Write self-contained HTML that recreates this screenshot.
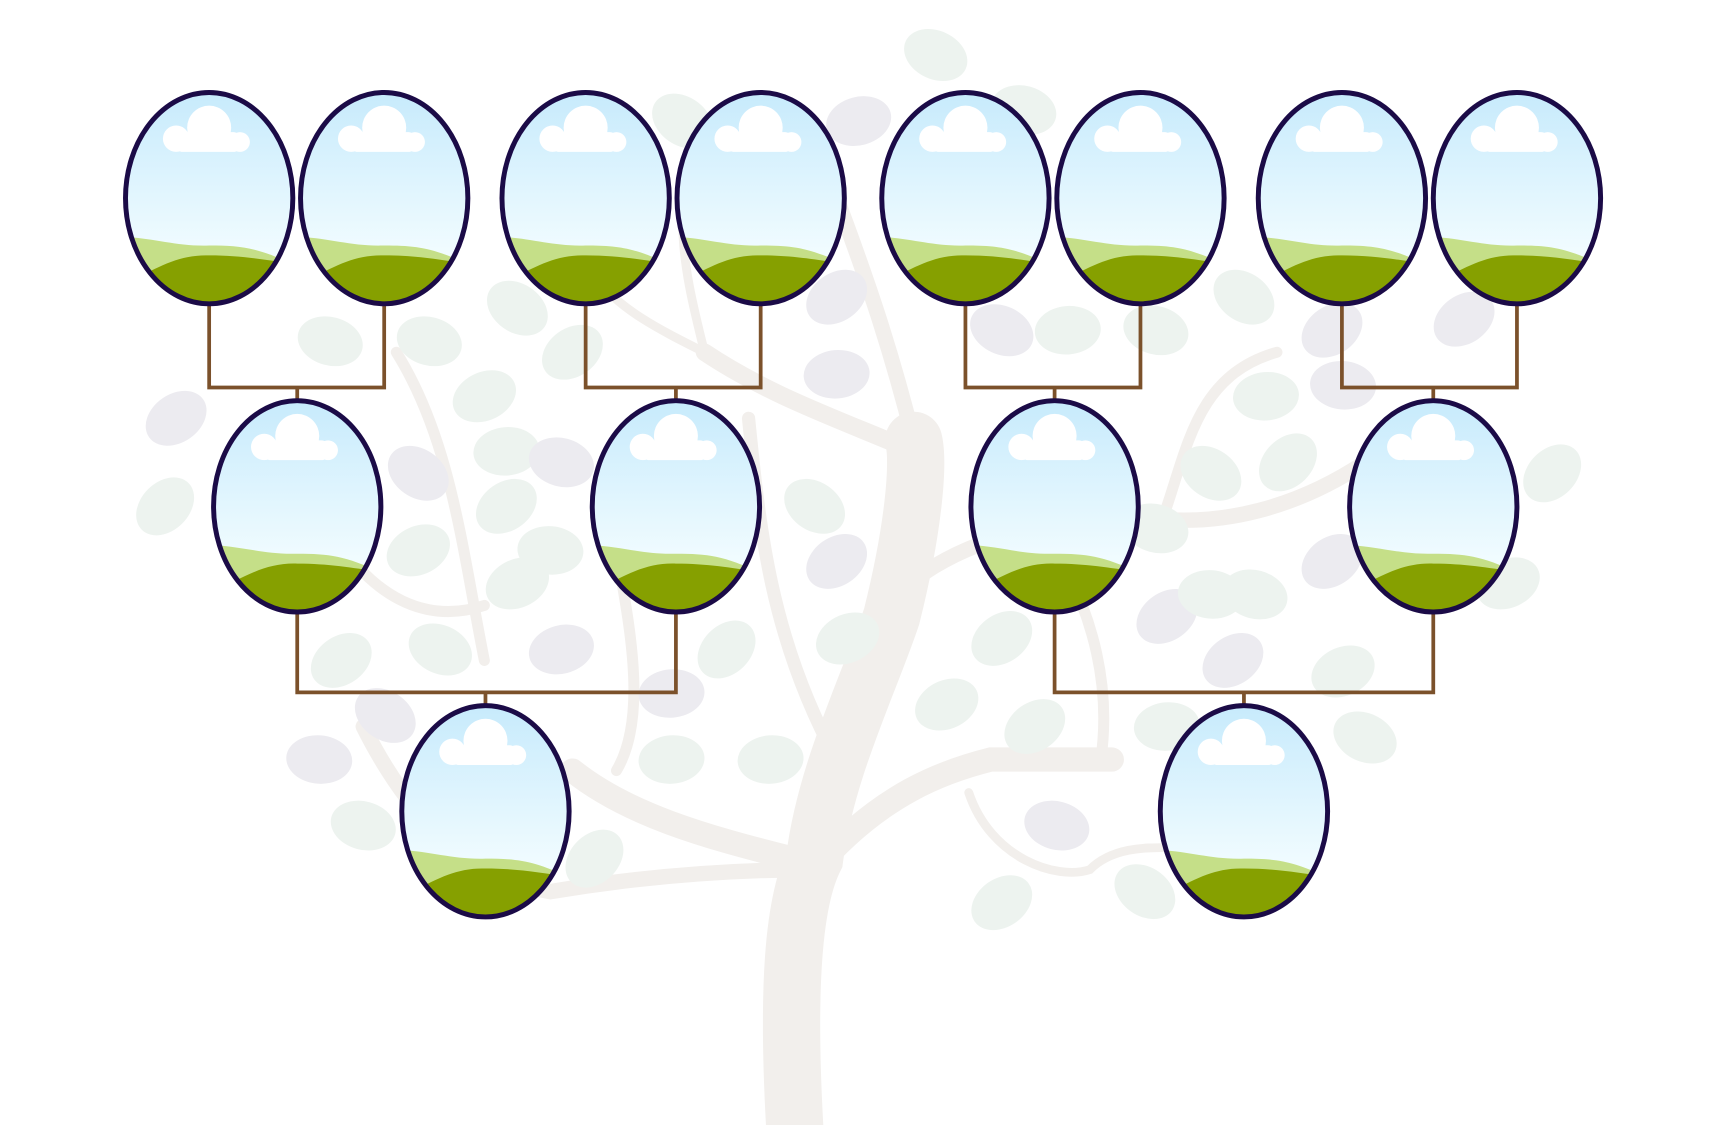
<!DOCTYPE html>
<html><head><meta charset="utf-8"><style>html,body{margin:0;padding:0;background:#fff}svg{display:block}</style></head>
<body>
<svg id="s" width="1725" height="1125" viewBox="0 0 1567 1022" preserveAspectRatio="none" xmlns="http://www.w3.org/2000/svg">
<defs>
<linearGradient id="sky" x1="0" y1="0" x2="0" y2="1"><stop offset="0" stop-color="#c6eafc"/><stop offset="0.75" stop-color="#f1fcff"/></linearGradient>
</defs>
<g id="tree" fill="none" stroke="#f2efec" stroke-linecap="round">
<path d="M722 1025 C715 900 720 820 740 780 C750 700 790 620 810 560 C830 480 835 420 830 400" stroke-width="52"/>
<path d="M740 790 C800 720 860 700 900 690 L1010 690" stroke-width="22"/>
<path d="M720 780 C640 760 570 740 520 700" stroke-width="22"/>
<path d="M740 790 C640 790 560 800 500 810 C440 800 380 760 330 660" stroke-width="14"/>
<path d="M830 410 C760 380 700 360 640 320" stroke-width="16"/>
<path d="M840 520 C900 480 980 470 1040 470 C1110 480 1180 460 1240 420" stroke-width="14"/>
<path d="M830 400 C810 320 790 260 760 180" stroke-width="14"/>
<path d="M760 690 C700 580 690 480 680 380" stroke-width="12"/>
<path d="M560 700 C590 650 570 560 560 500" stroke-width="10"/>
<path d="M440 600 C420 500 410 400 360 320" stroke-width="10"/>
<path d="M330 520 C370 560 410 560 440 550" stroke-width="10"/>
<path d="M1000 690 C1010 620 990 560 970 520" stroke-width="10"/>
<path d="M880 720 C900 780 960 800 990 790 C1010 770 1040 770 1060 770" stroke-width="8"/>
<path d="M1060 460 C1080 400 1090 340 1160 320" stroke-width="10"/>
<path d="M640 320 C600 300 560 280 540 250" stroke-width="8"/>
<path d="M640 320 C630 280 620 240 620 200" stroke-width="8"/>
</g>
<g id="leaves"></g>
<g id="links" stroke="#7b512b" stroke-width="3.4" fill="none"></g>
<g id="nodes"></g>
</svg>
<script>
const NS="http://www.w3.org/2000/svg";
const gen1X=[190,349,532,691,877,1036,1219,1378];
const gen2X=[270,614,958,1302];
const gen3X=[441,1130];
const rowY=[180,460,737];
const barY=[352,629];
const leafData=[[160,380,'#ecebf0'],[150,460,'#edf3ef'],[300,310,'#edf3ef'],[390,310,'#edf3ef'],[440,360,'#edf3ef'],[470,280,'#edf3ef'],[520,320,'#edf3ef'],[380,430,'#ecebf0'],[460,410,'#edf3ef'],[460,460,'#edf3ef'],[510,420,'#ecebf0'],[500,500,'#edf3ef'],[470,530,'#edf3ef'],[380,500,'#edf3ef'],[310,600,'#edf3ef'],[350,650,'#ecebf0'],[290,690,'#ecebf0'],[330,750,'#edf3ef'],[510,590,'#ecebf0'],[610,630,'#ecebf0'],[660,590,'#edf3ef'],[610,690,'#edf3ef'],[700,690,'#edf3ef'],[740,460,'#edf3ef'],[760,510,'#ecebf0'],[770,580,'#edf3ef'],[760,340,'#ecebf0'],[760,270,'#ecebf0'],[780,110,'#ecebf0'],[620,110,'#edf3ef'],[850,50,'#edf3ef'],[930,100,'#edf3ef'],[910,300,'#ecebf0'],[970,300,'#edf3ef'],[1050,300,'#edf3ef'],[1130,270,'#edf3ef'],[1150,360,'#edf3ef'],[1100,430,'#edf3ef'],[1170,420,'#edf3ef'],[1210,300,'#ecebf0'],[1330,290,'#ecebf0'],[1220,350,'#ecebf0'],[1410,430,'#edf3ef'],[1210,510,'#ecebf0'],[1370,530,'#edf3ef'],[1220,610,'#edf3ef'],[1240,670,'#edf3ef'],[1140,540,'#edf3ef'],[1060,560,'#ecebf0'],[1100,540,'#edf3ef'],[1050,480,'#edf3ef'],[910,580,'#edf3ef'],[860,640,'#edf3ef'],[940,660,'#edf3ef'],[960,750,'#ecebf0'],[910,820,'#edf3ef'],[1040,810,'#edf3ef'],[1060,660,'#edf3ef'],[1120,600,'#ecebf0'],[400,590,'#edf3ef'],[300,500,'#ecebf0'],[540,780,'#edf3ef']];
const leaves=document.getElementById('leaves');
leafData.forEach(l=>{const e=document.createElementNS(NS,'ellipse');


e.setAttribute('cx',l[0]);e.setAttribute('cy',l[1]);e.setAttribute('rx',30);e.setAttribute('ry',22);e.setAttribute('fill',l[2]);
e.setAttribute('transform','rotate('+((l[0]*7+l[1]*3)%90-45)+' '+l[0]+' '+l[1]+')');leaves.appendChild(e);});
const links=document.getElementById('links');
function path(d,name){const p=document.createElementNS(NS,'path');


p.setAttribute('d',d);links.appendChild(p);}
function connect(parents,childX,top,bar,bottom){
 const a=parents[0],b=parents[1];
 path('M'+a+' '+top+' V'+bar+' H'+b+' V'+top+' M'+childX+' '+bar+' V'+bottom,'connector');}
for(let i=0;i<4;i++)connect([gen1X[2*i],gen1X[2*i+1]],gen2X[i],rowY[0]+96,barY[0],rowY[1]-96);
for(let i=0;i<2;i++)connect([gen2X[2*i],gen2X[2*i+1]],gen3X[i],rowY[1]+96,barY[1],rowY[2]-96);
const nodes=document.getElementById('nodes');let k=0;
function frame(cx,cy){k++;const g=document.createElementNS(NS,'g');


const id='c'+k;
g.innerHTML=`<clipPath id="${id}"><ellipse cx="${cx}" cy="${cy}" rx="76" ry="96"/></clipPath>
<g clip-path="url(#${id})"><rect x="${cx-80}" y="${cy-100}" width="160" height="200" fill="url(#sky)"/>
<path d="M${cx-80} ${cy+35} C${cx-50} ${cy+36} ${cx-30} ${cy+44} ${cx} ${cy+43} C${cx+30} ${cy+43} ${cx+45} ${cy+45} ${cx+80} ${cy+62} V${cy+100} H${cx-80}Z" fill="#c5df88"/>
<path d="M${cx-80} ${cy+80} C${cx-50} ${cy+65} ${cx-30} ${cy+51} ${cx} ${cy+52} C${cx+30} ${cy+52} ${cx+50} ${cy+56} ${cx+80} ${cy+60} V${cy+100} H${cx-80}Z" fill="#86a000"/>
<g fill="#fff"><circle cx="${cx-30}" cy="${cy-54}" r="12"/><circle cx="${cx}" cy="${cy-64}" r="20"/><circle cx="${cx+28}" cy="${cy-51}" r="9"/><rect x="${cx-30}" y="${cy-60}" width="58" height="18" rx="6"/></g></g>
<ellipse cx="${cx}" cy="${cy}" rx="76" ry="96" fill="none" stroke="#1b0b47" stroke-width="4.5"/>`;
nodes.appendChild(g);}
gen1X.forEach(x=>frame(x,rowY[0]));gen2X.forEach(x=>frame(x,rowY[1]));gen3X.forEach(x=>frame(x,rowY[2]));
</script>
</body></html>
